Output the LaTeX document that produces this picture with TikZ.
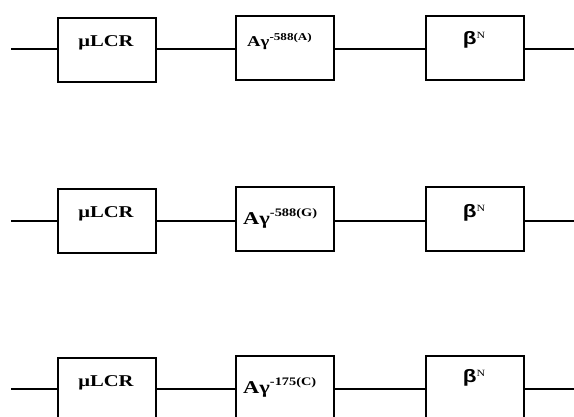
\documentclass[tikz,border=0pt]{standalone}
\usepackage{fontspec}
\setmainfont{Liberation Serif}
\newfontfamily\betafont{Liberation Sans}
% labels are set slightly widened
\newcommand{\wide}[1]{\scalebox{1.25}[1]{#1}}
\newcommand{\fs}[1]{\fontsize{#1}{#1}\selectfont}
\begin{document}
\begin{tikzpicture}[x=1pt,y=-1pt,
  box/.style={draw, line width=1.8pt, minimum width=98pt, minimum height=64pt,
              inner sep=0pt, anchor=north west},
  wire/.style={line width=1.8pt},
  lbl/.style={inner sep=0pt, font=\bfseries}]
\useasboundingbox (0,0) rectangle (574,417);
\clip (0,0) rectangle (574,417);

% three rows: lcr box top, other boxes top, wire level
\foreach \r/\ty/\tyb/\wy in {1/17/15/49, 2/188/186/221, 3/357/355/389}{
  \node[box] (lcr\r) at (57,\ty) {};
  \node[box] (ag\r)  at (235,\tyb) {};
  \node[box] (bn\r)  at (425,\tyb) {};
  \coordinate (in\r)  at (11,\wy);
  \coordinate (out\r) at (574,\wy);
  \draw[wire] (in\r) -- (in\r -| lcr\r.west);
  \draw[wire] (lcr\r.east |- in\r) -- (ag\r.west |- in\r);
  \draw[wire] (ag\r.east |- in\r) -- (bn\r.west |- in\r);
  \draw[wire] (bn\r.east |- in\r) -- (out\r);
}

% gene labels
\node[lbl, anchor=base] (tl1) at (106,47)  {\wide{\fs{16.5}μLCR}};
\node[lbl, anchor=base] (tl2) at (106,218) {\wide{\fs{16.5}μLCR}};
\node[lbl, anchor=base] (tl3) at (106,387) {\wide{\fs{16.5}μLCR}};

\node[lbl, anchor=base west] (ta1) at (247,47)
  {\wide{\fs{15}Aγ\raisebox{6pt}{\fs{10.5}-588(A)}}};
\node[lbl, anchor=base west] (ta2) at (243,225)
  {\wide{\fs{18}Aγ\raisebox{8pt}{\fs{11.5}-588(G)}}};
\node[lbl, anchor=base west] (ta3) at (243,393)
  {\wide{\fs{18}Aγ\raisebox{8pt}{\fs{11.5}-175(C)}}};

\node[lbl, anchor=base] (tb1) at (474,45)
  {\wide{{\betafont\fs{18}β}\raisebox{6.5pt}{\mdseries\fs{9.5}N}}};
\node[lbl, anchor=base] (tb2) at (474,218)
  {\wide{{\betafont\fs{18}β}\raisebox{6.5pt}{\mdseries\fs{9.5}N}}};
\node[lbl, anchor=base] (tb3) at (474,383)
  {\wide{{\betafont\fs{18}β}\raisebox{6.5pt}{\mdseries\fs{9.5}N}}};
\end{tikzpicture}
\end{document}
